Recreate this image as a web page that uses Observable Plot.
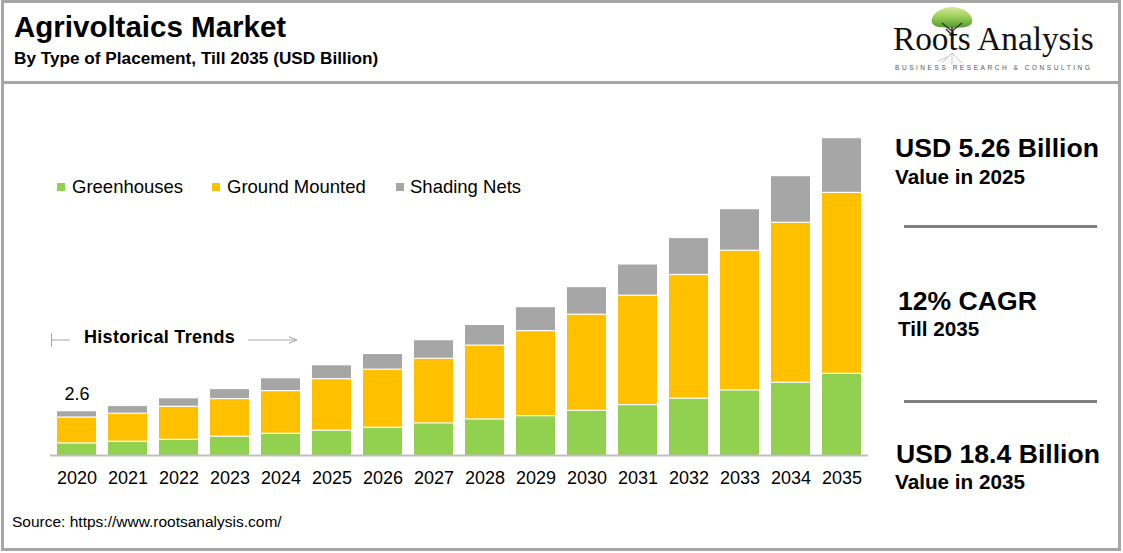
<!DOCTYPE html>
<html>
<head>
<meta charset="utf-8">
<script src="https://cdn.jsdelivr.net/npm/d3@7"></script>
<script src="https://cdn.jsdelivr.net/npm/@observablehq/plot@0.6"></script>
<style>
  html, body { margin: 0; padding: 0; background: #fff; }
  #wrap { position: relative; width: 1123px; height: 553px; overflow: hidden; background: #fff;
          font-family: "Liberation Sans", Arial, Helvetica, sans-serif; color: #000; }
  .abs { position: absolute; white-space: nowrap; line-height: 1; }
  .b { font-weight: bold; }
  #frame { position: absolute; left: 1px; top: 0; width: 1120px; height: 551px; box-sizing: border-box;
           border: 3px solid #a6a6a6; }
  #hdr { position: absolute; left: 1px; top: 81px; width: 1120px; height: 3px; background: #a6a6a6; }
  .sep { position: absolute; left: 904px; width: 193px; height: 3px; background: #7f7f7f; }
  .sw { position: absolute; width: 8px; height: 8px; top: 183px; }
  #chart { position: absolute; left: 0; top: 120px; }
</style>
</head>
<body>
<div id="wrap">
  <div id="frame"></div>
  <div id="hdr"></div>

  <div class="abs b" style="left:14px; top:11.5px; font-size:29.5px;">Agrivoltaics Market</div>
  <div class="abs b" style="left:14px; top:50px; font-size:17.2px;">By Type of Placement, Till 2035 (USD Billion)</div>

  <!-- logo -->
  <svg class="abs" style="left:922px; top:3px;" width="60" height="66" viewBox="0 0 60 66">
    <defs>
      <linearGradient id="cg" x1="0" y1="0" x2="0" y2="1">
        <stop offset="0" stop-color="#d7e89a"/>
        <stop offset="0.45" stop-color="#9fcf5a"/>
        <stop offset="1" stop-color="#4f9a2e"/>
      </linearGradient>
    </defs>
    <path d="M10,20 C8,12 18,4 30,4 C42,4 52,12 50,20 C46,26 36,24 30,25 C24,24 14,26 10,20 Z" fill="url(#cg)"/>
    <path d="M30,46 L30,24 M30,28 L20,20 M30,28 L40,20 M30,32 L24,26" stroke="#3b3b2b" stroke-width="1.6" fill="none"/>
    <path d="M30,50 L20,60 M30,50 L40,60 M30,50 L30,62 M26,54 L16,58" stroke="#c8c8c8" stroke-width="1" fill="none"/>
  </svg>
  <div class="abs" style="left:893px; top:22px; font-size:33.3px; font-family:'Liberation Serif','Times New Roman',serif; color:#111;">Roots Analysis</div>
  <div class="abs" style="left:895px; top:65px; font-size:6.5px; letter-spacing:2.55px; color:#555;">BUSINESS RESEARCH &amp; CONSULTING</div>

  <!-- legend -->
  <div id="legend"></div>

  <!-- historical trends annotation -->
  <svg class="abs" style="left:0; top:320px;" width="320" height="40">
    <defs>
      <marker id="ah" viewBox="0 0 10 10" refX="10" refY="5" markerWidth="8" markerHeight="8" orient="auto">
        <path d="M0,1 L10,5 L0,9" fill="none" stroke="#a6a6a6" stroke-width="1.3"/>
      </marker>
    </defs>
    <line x1="51.5" y1="13" x2="51.5" y2="27" stroke="#a6a6a6" stroke-width="1"/>
    <line x1="51.5" y1="20" x2="70" y2="20" stroke="#a6a6a6" stroke-width="1"/>
    <line x1="248" y1="20" x2="297" y2="20" stroke="#a6a6a6" stroke-width="1" marker-end="url(#ah)"/>
  </svg>
  <div class="abs b" style="left:84px; top:327.5px; font-size:18px; letter-spacing:0.3px;">Historical Trends</div>

  <div id="chart"></div>

  <!-- right panel -->
  <div class="abs b" style="left:895px; top:135px; font-size:26.6px;">USD 5.26 Billion</div>
  <div class="abs b" style="left:895px; top:167px; font-size:20.7px;">Value in 2025</div>
  <div class="sep" style="top:225px;"></div>
  <div class="abs b" style="left:898px; top:287.5px; font-size:26.6px;">12% CAGR</div>
  <div class="abs b" style="left:898px; top:319.3px; font-size:20.7px;">Till 2035</div>
  <div class="sep" style="top:400px;"></div>
  <div class="abs b" style="left:896px; top:441px; font-size:26.6px;">USD 18.4 Billion</div>
  <div class="abs b" style="left:895px; top:472px; font-size:20.7px;">Value in 2035</div>

  <div class="abs" style="left:12px; top:513.6px; font-size:15.5px;">Source: https://www.rootsanalysis.com/</div>
</div>

<script>
// ---------- data ----------
const years = ["2020","2021","2022","2023","2024","2025","2026","2027","2028","2029","2030","2031","2032","2033","2034","2035"];
const seriesNames = ["Greenhouses", "Ground Mounted", "Shading Nets"];
const greenhouses   = [0.73, 0.83, 0.94, 1.12, 1.29, 1.47, 1.64, 1.89, 2.12, 2.31, 2.62, 2.95, 3.32, 3.80, 4.24, 4.76];
const groundMounted = [1.50, 1.62, 1.91, 2.18, 2.47, 2.98, 3.36, 3.74, 4.27, 4.92, 5.56, 6.33, 7.16, 8.08, 9.26, 10.47];
const shadingNets   = [0.37, 0.45, 0.50, 0.58, 0.75, 0.81, 0.91, 1.08, 1.20, 1.39, 1.60, 1.81, 2.14, 2.41, 2.70, 3.17];
const seriesColors = ["#92d050", "#ffc000", "#a6a6a6"];
const firstYearLabel = "2.6";
const yMax = 18.4;

// ---------- table ----------
const seriesValues = [greenhouses, groundMounted, shadingNets];
const rows = [];
years.forEach((yr, i) => {
  seriesNames.forEach((s, j) => rows.push({ year: yr, series: s, value: seriesValues[j][i] }));
});
const totals = years.map((yr, i) => ({ year: yr, total: greenhouses[i] + groundMounted[i] + shadingNets[i] }));

// ---------- legend ----------
const legendX = [[57, 72], [212, 227], [396, 410]];
const legend = document.getElementById("legend");
seriesNames.forEach((s, j) => {
  const sw = document.createElement("div");
  sw.className = "sw";
  sw.style.left = legendX[j][0] + "px";
  sw.style.background = seriesColors[j];
  legend.appendChild(sw);
  const t = document.createElement("div");
  t.className = "abs";
  t.style.left = legendX[j][1] + "px";
  t.style.top = "177.6px";
  t.style.fontSize = "18.5px";
  t.textContent = s;
  legend.appendChild(t);
});

// ---------- chart ----------
const chart = Plot.plot({
  width: 880,
  height: 380,
  marginLeft: 44,
  marginRight: 6,
  marginTop: 17,
  marginBottom: 45,
  style: { fontFamily: "'Liberation Sans', Arial, sans-serif", background: "transparent", color: "#000" },
  x: { domain: years, padding: 0.24, label: null },
  y: { domain: [0, yMax], axis: null },
  color: { domain: seriesNames, range: seriesColors },
  marks: [
    Plot.barY(rows, { x: "year", y: "value", fill: "series", insetTop: 1.2 }),
    Plot.ruleY([0], { stroke: "#bfbfbf", strokeWidth: 2, insetLeft: 6, insetRight: 6 }),
    Plot.text(totals.slice(0, 1), { x: "year", y: "total", text: () => firstYearLabel, dy: -16, fontSize: 18, fill: "#000" }),
    Plot.axisX({ tickSize: 0, tickPadding: 16, fontSize: 18, label: null, fill: "#000" })
  ]
});
document.getElementById("chart").appendChild(chart);
</script>
</body>
</html>
